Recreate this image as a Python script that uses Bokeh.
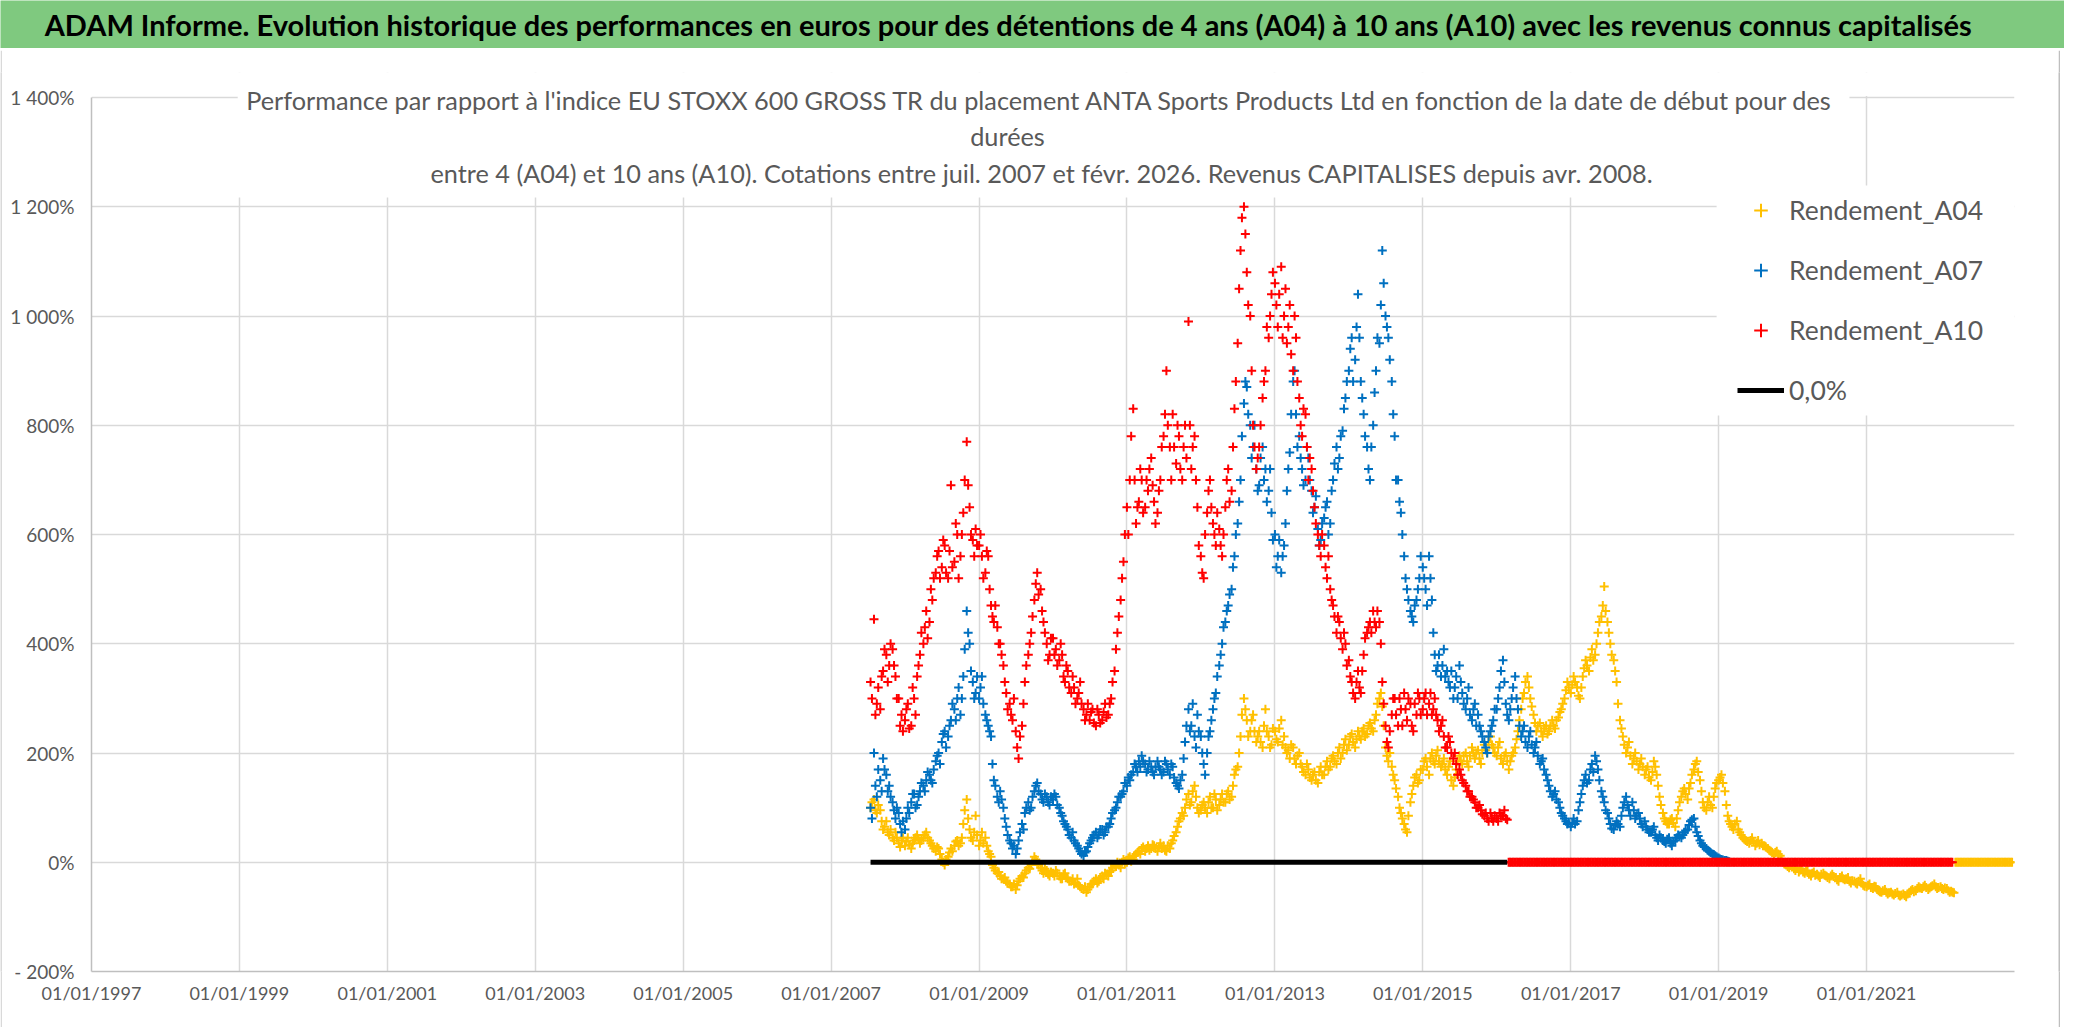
import pandas as pd
from bokeh.plotting import figure
from bokeh.layouts import column, row
from bokeh.models import (ColumnDataSource, Range1d, FixedTicker, DatetimeTickFormatter,
                          Label, Legend, LegendItem, BoxAnnotation)
from bokeh.embed import file_html
from bokeh.resources import INLINE

# ---------------- texts ----------------
TITLE = ("ADAM Informe. Evolution historique des performances en euros pour des d\u00e9tentions "
         "de 4 ans (A04) \u00e0 10 ans (A10) avec les revenus connus capitalis\u00e9s")
SUBTITLE = [
    "Performance par rapport \u00e0 l'indice EU STOXX 600 GROSS TR  du placement ANTA Sports Products Ltd en fonction de la date de d\u00e9but pour des",
    "dur\u00e9es",
    "entre 4 (A04) et 10 ans (A10). Cotations entre juil. 2007 et f\u00e9vr. 2026. Revenus CAPITALISES depuis avr. 2008.",
]
SERIES_NAMES = ["Rendement_A04", "Rendement_A07", "Rendement_A10", "0,0%"]

X_TICK_LABELS = ["01/01/1997", "01/01/1999", "01/01/2001", "01/01/2003", "01/01/2005",
                 "01/01/2007", "01/01/2009", "01/01/2011", "01/01/2013", "01/01/2015",
                 "01/01/2017", "01/01/2019", "01/01/2021"]
Y_TICKS = [-200, 0, 200, 400, 600, 800, 1000, 1200, 1400]
Y_TICK_LABELS = ["- 200%", "0%", "200%", "400%", "600%", "800%", "1 000%", "1 200%", "1 400%"]
X_START, X_END = "1997-01-01", "2023-01-01"

# ---------------- data (%, readings on the 1st/15th of each month = *_A,
#                  and a week later = *_B), first reading 15/07/2007 ----------------
FIRST_DATE = "2007-07-15"

A04_A = (
    [100, 115, 90, 95, 60, 75, 50, 45, 55, 35, 40]  # 2007
    + [30, 45, 25, 40, 50, 35, 45, 55, 40, 30, 20, 25, 5, -5, 10, 25, 30, 40, 35, 70, 115, 60, 40, 85]  # 2008
    + [30, 55, 45, 20, 10, -10, -20, -25, -30, -35, -40, -45, -50, -35, -25, -20, -10, -5, 10, 0, -10, -20, -15, -25]  # 2009
    + [-20, -15, -25, -30, -20, -30, -35, -40, -30, -45, -50, -55, -45, -40, -30, -35, -25, -20, -25, -15, -5, 0, -10, 5]  # 2010
    + [0, 10, 5, 15, 20, 25, 20, 30, 25, 30, 20, 35, 30, 20, 25, 40, 55, 75, 90, 100, 125, 110, 140, 100]  # 2011
    + [95, 110, 90, 120, 100, 115, 105, 125, 110, 130, 120, 160, 175, 230, 300, 260, 240, 270, 220, 240, 210, 280, 230, 215]  # 2012
    + [240, 220, 260, 230, 200, 190, 210, 180, 200, 175, 160, 170, 150, 165, 145, 175, 160, 185, 175, 195, 180, 210, 200, 225]  # 2013
    + [215, 235, 210, 240, 225, 245, 235, 255, 240, 270, 300, 285, 210, 185, 175, 150, 120, 90, 70, 55, 110, 140, 160, 150]  # 2014
    + [170, 190, 160, 200, 180, 205, 175, 190, 160, 185, 140, 170, 195, 180, 200, 175, 210, 190, 205, 180, 215, 200, 230, 210]  # 2015
    + [195, 220, 180, 200, 170, 195, 210, 240, 280, 310, 340, 300, 270, 240, 255, 230, 250, 240, 260, 245, 265, 280, 300, 330]  # 2016
    + [310, 340, 320, 300, 340, 370, 350, 390, 380, 420, 450, 505, 440, 400, 370, 330, 260, 230, 200, 220, 180, 200, 170, 190]  # 2017
    + [160, 175, 150, 185, 160, 120, 90, 75, 70, 80, 65, 95, 120, 135, 115, 145, 170, 185, 150, 110, 95, 120, 100, 135]  # 2018
    + [150, 160, 130, 85, 70, 60, 75, 55, 45, 40, 35, 45, 30, 40, 35, 30, 25, 20, 15, 20, 12, 0, -5, -10]  # 2019
    + [-8, -15, -18, -12, -20, -15, -25, -18, -22, -28, -20, -25, -30, -22, -28, -35, -25, -32, -28, -38, -35, -40, -30, -42]  # 2020
    + [-45, -40, -48, -45, -52, -55, -50, -58, -55, -60, -55, -62, -58, -63, -55, -50, -52, -45, -48, -42, -50, -45, -40, -48]  # 2021
    + [-45, -50, -48, -55, -55]  # 2022
)
A04_B = (
    [110, 95, 105, 75, 65, 55, 60, 40, 45, 28, 45]  # 2007
    + [38, 32, 35, 45, 42, 40, 50, 45, 35, 25, 28, 15, 0, 5, 18, 20, 38, 30, 45, 95, 80, 45, 55, 50]  # 2008
    + [40, 35, 30, 15, -5, -15, -18, -30, -28, -38, -45, -40, -42, -30, -28, -15, -12, 2, 5, -5, -15, -12, -22, -18]  # 2009
    + [-25, -20, -30, -22, -28, -35, -30, -38, -42, -48, -45, -50, -40, -35, -38, -28, -30, -22, -18, -10, -8, -5, 0, -3]  # 2010
    + [8, 2, 12, 18, 15, 28, 25, 22, 32, 25, 28, 25, 22, 30, 35, 48, 65, 80, 85, 115, 105, 130, 120, 90]  # 2011
    + [105, 100, 110, 100, 125, 95, 115, 110, 125, 115, 140, 170, 200, 270, 280, 230, 260, 240, 230, 220, 250, 240, 210, 245]  # 2012
    + [225, 245, 215, 210, 205, 215, 190, 195, 180, 165, 180, 155, 160, 150, 165, 160, 175, 170, 190, 185, 200, 190, 215, 205]  # 2013
    + [230, 220, 225, 230, 240, 230, 250, 245, 260, 290, 310, 250, 195, 200, 160, 135, 100, 80, 60, 85, 125, 155, 145, 170]  # 2014
    + [185, 175, 190, 185, 195, 185, 180, 170, 175, 150, 155, 185, 185, 195, 185, 195, 200, 200, 190, 200, 205, 220, 215, 200]  # 2015
    + [210, 190, 195, 185, 185, 200, 225, 260, 300, 330, 320, 285, 255, 250, 240, 245, 235, 250, 250, 260, 275, 290, 315, 320]  # 2016
    + [325, 330, 305, 320, 355, 360, 375, 370, 400, 440, 470, 460, 420, 380, 350, 290, 245, 215, 210, 195, 190, 185, 180, 175]  # 2017
    + [170, 155, 165, 175, 140, 105, 80, 70, 78, 72, 80, 110, 130, 125, 135, 160, 180, 165, 130, 100, 110, 105, 120, 145]  # 2018
    + [155, 145, 105, 75, 65, 70, 60, 50, 42, 38, 40, 38, 35, 32, 30, 28, 22, 18, 18, 15, 5, -3, -8, -6]  # 2019
    + [-12, -10, -14, -18, -16, -22, -20, -24, -25, -22, -24, -28, -25, -26, -32, -28, -30, -30, -35, -34, -38, -35, -38, -44]  # 2020
    + [-42, -46, -44, -50, -54, -52, -55, -56, -58, -57, -60, -60, -61, -58, -52, -54, -48, -47, -45, -46, -47, -43, -45, -46]  # 2021
    + [-48, -47, -52, -53, -56]  # 2022
)

A07_A = (
    [100, 200, 120, 150, 190, 160, 140, 110, 80, 90, 55]  # 2007
    + [60, 100, 110, 125, 105, 130, 140, 150, 160, 145, 185, 200, 220, 240, 230, 260, 280, 300, 270, 340, 460, 400, 330, 310]  # 2008
    + [300, 340, 270, 250, 230, 150, 120, 130, 100, 65, 40, 25, 15, 40, 70, 90, 110, 100, 130, 145, 125, 110, 120, 105]  # 2009
    + [115, 120, 100, 85, 70, 60, 45, 40, 30, 20, 12, 20, 35, 45, 55, 50, 60, 55, 65, 80, 95, 110, 120, 130]  # 2010
    + [140, 150, 165, 175, 185, 195, 180, 170, 175, 160, 185, 170, 165, 180, 160, 175, 145, 135, 160, 220, 280, 250, 230, 270]  # 2011
    + [230, 180, 200, 240, 280, 310, 360, 400, 440, 470, 500, 560, 620, 700, 840, 870, 800, 760, 720, 690, 760, 720, 680, 640]  # 2012
    + [600, 560, 530, 580, 680, 750, 880, 820, 780, 720, 700, 740, 680, 650, 610, 590, 630, 660, 620, 700, 760, 740, 790, 850]  # 2013
    + [900, 960, 920, 1040, 880, 820, 760, 700, 800, 900, 950, 1120, 1000, 960, 880, 780, 700, 640, 560, 500, 460, 440, 480, 520]  # 2014
    + [540, 500, 560, 480, 380, 360, 340, 390, 350, 320, 300, 340, 360, 310, 280, 320, 260, 290, 270, 240, 220, 200, 240, 260]  # 2015
    + [280, 320, 370, 290, 260, 300, 340, 280, 230, 250, 210, 240, 200, 220, 180, 190, 160, 140, 120, 130, 110, 90, 80, 70]  # 2016
    + [65, 80, 75, 110, 140, 160, 150, 180, 195, 170, 130, 110, 90, 70, 60, 75, 65, 100, 120, 95, 110, 80, 90, 70]  # 2017
    + [75, 60, 55, 65, 45, 50, 40, 35, 45, 30, 40, 50, 45, 55, 60, 75, 80, 55, 40, 30, 25, 20, 15, 12]  # 2018
    + [8, 5, 3, 2]  # 2019
)
A07_B = (
    [80, 140, 170, 130, 170, 130, 120, 95, 100, 70, 75]  # 2007
    + [80, 90, 125, 100, 120, 145, 130, 165, 150, 170, 195, 180, 235, 210, 250, 290, 260, 320, 300, 390, 420, 350, 300, 340]  # 2008
    + [320, 290, 260, 240, 180, 140, 110, 115, 80, 50, 35, 30, 25, 55, 60, 100, 95, 120, 140, 130, 115, 125, 110, 120]  # 2009
    + [125, 105, 90, 75, 65, 50, 55, 35, 25, 15, 18, 28, 40, 50, 45, 60, 50, 65, 70, 90, 100, 120, 125, 145]  # 2010
    + [155, 160, 180, 165, 175, 185, 165, 185, 165, 175, 175, 160, 185, 170, 180, 155, 140, 150, 190, 250, 240, 290, 210, 240]  # 2011
    + [200, 160, 230, 260, 300, 340, 380, 430, 460, 490, 540, 600, 660, 780, 880, 820, 740, 800, 680, 740, 700, 660, 720, 590]  # 2012
    + [540, 590, 560, 620, 720, 820, 900, 760, 740, 690, 760, 700, 640, 670, 580, 620, 650, 600, 680, 730, 720, 780, 830, 880]  # 2013
    + [940, 880, 980, 960, 850, 780, 720, 760, 860, 960, 1020, 1060, 980, 920, 820, 700, 660, 600, 520, 480, 450, 470, 500, 560]  # 2014
    + [520, 470, 520, 420, 350, 380, 360, 340, 330, 350, 320, 300, 330, 290, 300, 270, 280, 250, 250, 230, 210, 230, 250, 280]  # 2015
    + [300, 350, 330, 270, 280, 320, 300, 250, 240, 220, 230, 215, 210, 195, 185, 170, 150, 130, 125, 115, 100, 85, 75, 72]  # 2016
    + [72, 70, 95, 125, 150, 145, 170, 165, 185, 150, 120, 95, 80, 62, 68, 70, 85, 110, 105, 85, 95, 85, 80, 65]  # 2017
    + [65, 55, 60, 50, 40, 45, 38, 42, 35, 38, 45, 48, 50, 58, 68, 78, 65, 48, 35, 28, 22, 18, 14, 10]  # 2018
    + [6, 4, 3, 1]  # 2019
)

A10_A = (
    [330, 445, 290, 280, 350, 380, 360, 390, 340, 300, 270]  # 2007
    + [260, 290, 250, 300, 340, 380, 400, 460, 440, 480, 530, 570, 540, 580, 520, 690, 550, 600, 560, 640, 770, 650, 590, 610]  # 2008
    + [580, 560, 530, 560, 470, 440, 430, 400, 360, 310, 290, 260, 240, 190, 250, 330, 380, 420, 480, 530, 500, 440, 400, 380]  # 2009
    + [410, 390, 370, 380, 330, 350, 310, 320, 300, 330, 280, 270, 260, 280, 250, 270, 260, 290, 270, 300, 350, 420, 480, 550]  # 2010
    + [650, 700, 830, 620, 660, 700, 650, 680, 740, 660, 640, 700, 780, 900, 760, 820, 730, 780, 700, 800, 990, 720, 780, 650]  # 2011
    + [560, 520, 640, 700, 620, 580, 610, 560, 650, 720, 680, 830, 950, 1120, 1200, 1080, 1000, 800, 720, 760, 850, 900, 960, 1040]  # 2012
    + [1060, 980, 1090, 1000, 950, 1020, 900, 960, 850, 780, 820, 700, 720, 650, 600, 560, 580, 520, 500, 470, 420, 440, 390, 400]  # 2013
    + [370, 330, 300, 350, 310, 380, 420, 440, 460, 430, 440, 330, 250, 210, 270, 300, 250, 280, 310, 260, 290, 240, 270, 300]  # 2014
    + [280, 310, 290, 270, 300, 260, 250, 230, 210, 220, 190, 180, 170, 150, 140, 130, 120, 110, 100, 95, 85, 80, 90, 75]  # 2015
    + [80, 90, 85, 80]  # 2016
)
A10_B = (
    [300, 270, 320, 340, 390, 330, 400, 360, 300, 250, 240]  # 2007
    + [280, 245, 320, 270, 360, 420, 430, 410, 500, 520, 560, 520, 590, 530, 570, 540, 620, 520, 600, 700, 690, 600, 560, 580]  # 2008
    + [600, 520, 570, 500, 450, 470, 400, 380, 330, 280, 270, 300, 210, 230, 290, 360, 400, 450, 510, 490, 460, 420, 370, 410]  # 2009
    + [380, 360, 400, 340, 360, 320, 340, 290, 310, 290, 260, 290, 275, 255, 280, 255, 275, 265, 290, 330, 390, 450, 520, 600]  # 2010
    + [600, 780, 700, 650, 720, 640, 700, 720, 690, 620, 680, 760, 820, 800, 700, 760, 800, 720, 760, 740, 800, 760, 700, 580]  # 2011
    + [530, 600, 680, 650, 600, 640, 580, 600, 700, 660, 760, 880, 1050, 1180, 1150, 1020, 900, 760, 740, 800, 880, 980, 1000, 1080]  # 2012
    + [1020, 1040, 960, 1050, 980, 930, 1000, 880, 800, 830, 760, 740, 680, 620, 580, 600, 540, 560, 480, 450, 450, 410, 420, 360]  # 2013
    + [340, 310, 330, 320, 350, 410, 430, 420, 440, 460, 400, 290, 220, 240, 300, 270, 300, 250, 280, 300, 250, 290, 310, 270]  # 2014
    + [300, 270, 310, 280, 270, 240, 260, 210, 230, 200, 200, 160, 160, 145, 130, 120, 115, 100, 105, 88, 90, 75, 80, 85]  # 2015
    + [75, 85, 95, 78]  # 2016
)

# periods after the last known value are plotted at 0 % in the source chart
A10_ZERO_PERIOD = ("2016-02-29", "2022-02-28")
A04_ZERO_PERIOD = ("2022-03-15", "2022-12-25")
ZERO_LINE_DATES = ["2007-07-15", "2016-02-22"]
ZERO_LINE_VALUES = [0, 0]

# ---------------- styles ----------------
FONT = "Lato"
C04, C07, C10 = "#FFC000", "#0070C0", "#FF0000"
GREY_TXT = "#595959"
GRID = "#D9D9D9"
Y_MAX = 1445.8   # a little head-room above the 1 400 % line for the chart sub-title


def ms(d):
    return pd.Timestamp(d).timestamp() * 1000.0


def series_source(a, b):
    da = pd.date_range(FIRST_DATE, periods=len(a), freq="SMS")
    db = da + pd.Timedelta(days=7)
    return ColumnDataSource(dict(x=list(da) + list(db), y=list(a) + list(b)))


def zero_source(period):
    d = pd.date_range(period[0], period[1], freq="7D")
    return ColumnDataSource(dict(x=d, y=[0] * len(d)))


def strip(w, h, color):
    f = figure(width=w, height=h, output_backend="svg", toolbar_location=None, min_border=0,
               x_axis_location=None, y_axis_location=None,
               x_range=Range1d(0, 1), y_range=Range1d(0, 1))
    f.grid.visible = False
    f.outline_line_color = None
    f.background_fill_color = color
    f.border_fill_color = color
    return f


# ---------------- banner ----------------
banner = figure(width=2064, height=48, x_range=Range1d(0, 2064), y_range=Range1d(0, 48),
                output_backend="svg", toolbar_location=None, min_border=0,
                x_axis_location=None, y_axis_location=None)
banner.grid.visible = False
banner.outline_line_color = None
banner.background_fill_color = "#7FC97F"
banner.border_fill_color = "#7FC97F"
banner.add_layout(Label(x=1008, y=24, text=TITLE, text_align="center", text_baseline="middle",
                        text_font=FONT, text_font_style="bold", text_font_size="29px",
                        text_color="black"))

# ---------------- main chart ----------------
p = figure(width=2056, height=977, x_axis_type="datetime", output_backend="svg",
           toolbar_location=None,
           x_range=Range1d(ms(X_START), ms(X_END)), y_range=Range1d(-200, Y_MAX),
           min_border_left=89, min_border_right=44, min_border_top=22, min_border_bottom=56)
p.outline_line_color = None
p.background_fill_color = "white"
p.border_fill_color = "white"

x_ticks = [ms(pd.to_datetime(t, dayfirst=True)) for t in X_TICK_LABELS]
p.xaxis.ticker = FixedTicker(ticks=x_ticks)
fmt = "%d/%m/%Y"
p.xaxis.formatter = DatetimeTickFormatter(milliseconds=fmt, seconds=fmt, minsec=fmt, minutes=fmt,
                                          hourmin=fmt, hours=fmt, days=fmt, months=fmt, years=fmt)
p.yaxis.ticker = FixedTicker(ticks=Y_TICKS)
p.yaxis.major_label_overrides = {t: l for t, l in zip(Y_TICKS, Y_TICK_LABELS)}
p.yaxis.bounds = (Y_TICKS[0], Y_TICKS[-1])

for ax in (p.xaxis[0], p.yaxis[0]):
    ax.major_tick_line_color = None
    ax.minor_tick_line_color = None
    ax.major_tick_out = 0
    ax.major_tick_in = 0
    ax.minor_tick_out = 0
    ax.axis_line_color = "#BFBFBF"
    ax.axis_line_width = 1.5
    ax.major_label_text_font = FONT
    ax.major_label_text_color = GREY_TXT
p.yaxis.major_label_text_font_size = "19px"
p.xaxis.major_label_text_font_size = "18px"
p.yaxis.major_label_standoff = 17
p.xaxis.major_label_standoff = 10

p.xgrid.ticker = FixedTicker(ticks=x_ticks)
p.ygrid.ticker = FixedTicker(ticks=Y_TICKS)
p.grid.grid_line_color = GRID
p.grid.grid_line_width = 1.5

# white areas: above the top gridline, behind the chart sub-title and behind the legend
p.add_layout(BoxAnnotation(bottom=Y_TICKS[-1] + 3, fill_color="white", fill_alpha=1,
                           line_color=None, level="underlay"))
p.add_layout(BoxAnnotation(left=ms("1998-12-24"), right=ms("2020-10-08"), bottom=1217,
                           fill_color="white", fill_alpha=1, line_color=None, level="underlay"))
p.add_layout(BoxAnnotation(left=ms("2018-12-22"), bottom=818, top=1239,
                           fill_color="white", fill_alpha=1, line_color=None, level="underlay"))

mk = dict(marker="cross", size=9, line_width=2)

r04 = p.scatter(x="x", y="y", source=series_source(A04_A, A04_B), line_color=C04, **mk)
p.scatter(x="x", y="y", source=zero_source(A04_ZERO_PERIOD), line_color=C04, **mk)
r07 = p.scatter(x="x", y="y", source=series_source(A07_A, A07_B), line_color=C07, **mk)
r10 = p.scatter(x="x", y="y", source=series_source(A10_A, A10_B), line_color=C10, **mk)
p.scatter(x="x", y="y", source=zero_source(A10_ZERO_PERIOD), line_color=C10, **mk)
r0 = p.line(x=pd.to_datetime(ZERO_LINE_DATES), y=ZERO_LINE_VALUES, line_color="black", line_width=5)

# sub-title (3 lines, centred as in the source)
for txt, xx, yy in zip(SUBTITLE, [952, 916, 950], [872, 836, 799]):
    p.add_layout(Label(x=xx, y=yy, x_units="screen", y_units="screen", text=txt,
                       text_align="center", text_baseline="middle", text_font=FONT,
                       text_font_size="25.3px", text_color=GREY_TXT))

legend = Legend(items=[LegendItem(label=SERIES_NAMES[0], renderers=[r04]),
                       LegendItem(label=SERIES_NAMES[1], renderers=[r07]),
                       LegendItem(label=SERIES_NAMES[2], renderers=[r10]),
                       LegendItem(label=SERIES_NAMES[3], renderers=[r0])],
                location=(1646, 564), orientation="vertical", margin=0, padding=0,
                glyph_width=47, glyph_height=34, label_height=34, spacing=26,
                label_standoff=5, label_text_font=FONT, label_text_font_size="26.5px",
                label_text_color=GREY_TXT, background_fill_color="white",
                background_fill_alpha=1, border_line_color=None)
p.add_layout(legend)

layout = column(banner,
                strip(2060, 2, "#D9D9D9"),
                row(strip(2, 977, "#D9D9D9"), p, strip(2, 977, "#BFBFBF"), spacing=0),
                strip(2060, 2, "#BFBFBF"),
                spacing=0)
open("out.html", "w").write(file_html(layout, INLINE))
